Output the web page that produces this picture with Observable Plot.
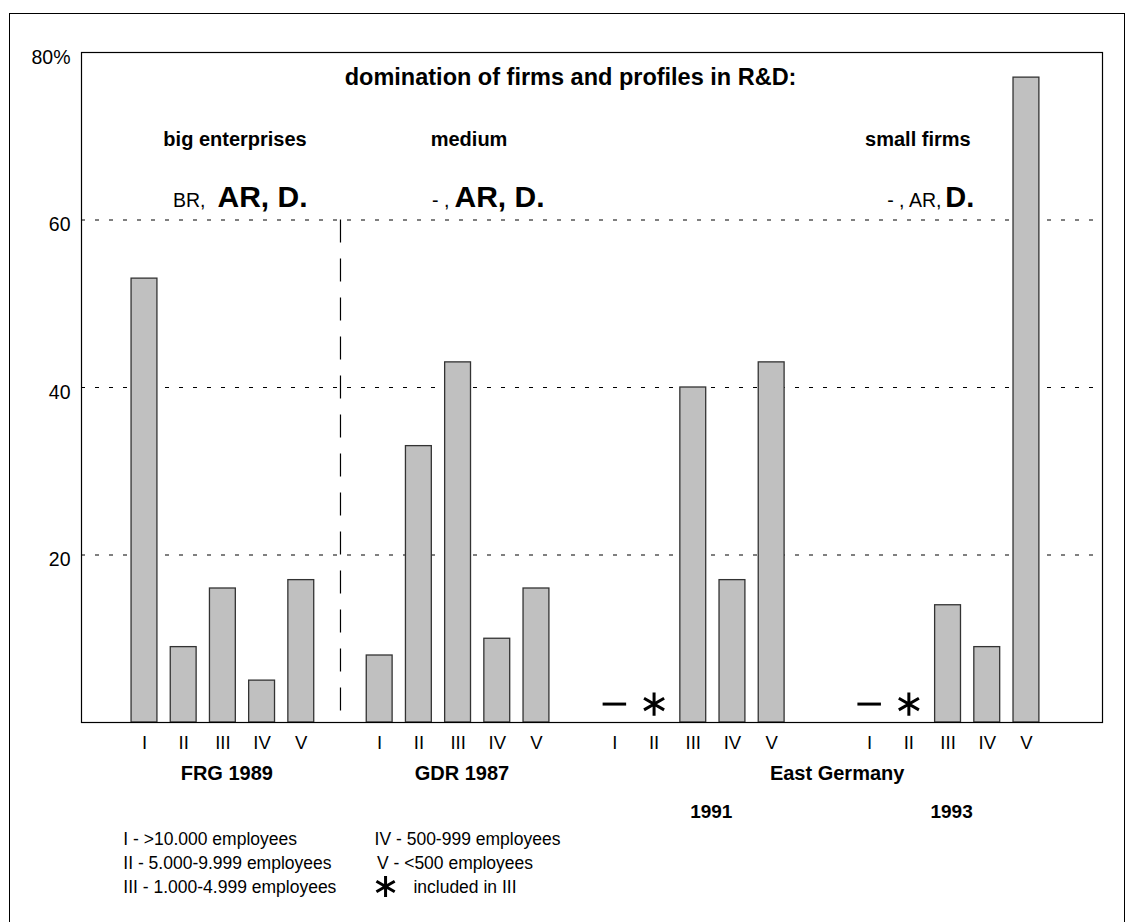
<!DOCTYPE html>
<html>
<head>
<meta charset="utf-8">
<script src="https://cdn.jsdelivr.net/npm/d3@7"></script>
<script src="https://cdn.jsdelivr.net/npm/@observablehq/plot@0.6"></script>
<style>
  html, body { margin: 0; padding: 0; background: #fff; }
  #wrap { position: relative; width: 1130px; height: 922px; overflow: hidden; }
  #outer { position: absolute; left: 9px; top: 13px; width: 1116px; height: 1000px; border: 1px solid #000; box-sizing: border-box; pointer-events: none; }
  #chart { position: absolute; left: 0; top: 0; }
</style>
</head>
<body>
<div id="wrap"><div id="chart"></div><div id="outer"></div></div>
<script>
// ---- data ----
const classes = ["I", "II", "III", "IV", "V"];
const groups = ["FRG 1989", "GDR 1987", "1991", "1993"];
const frg1989 = [53, 9, 16, 5, 17];
const gdr1987 = [8, 33, 43, 10, 16];
const eg1991 = [null, null, 40, 17, 43];
const eg1993 = [null, null, 14, 9, 77];
// markers for classes with no bar: "dash" = none, "asterisk" = included in III
const markers1991 = ["dash", "asterisk", null, null, null];
const markers1993 = ["dash", "asterisk", null, null, null];
const yTicks = [20, 40, 60, 80];
const gridValues = [20, 40, 60];
const title = "domination of firms and profiles in R&D:";
const sizeLabels = ["big enterprises", "medium", "small firms"];
const profileMinor = ["BR,", "- ,", "- , AR,"];
const profileMajor = ["AR, D.", "AR, D.", "D."];
const legendCol1 = ["I - >10.000 employees", "II - 5.000-9.999 employees", "III - 1.000-4.999 employees"];
const legendCol2 = ["IV - 500-999 employees", "V - <500 employees"];
const legendStar = "included in III";

// ---- layout (slot units on a linear x scale) ----
const groupStart = [0, 6, 12, 18.5];
const seriesList = [frg1989, gdr1987, eg1991, eg1993];
const markerList = [null, null, markers1991, markers1993];

const bars = [], dashes = [], stars = [];
seriesList.forEach((vals, g) => {
  vals.forEach((v, i) => {
    const pos = groupStart[g] + i;
    bars.push({group: groups[g], cls: classes[i], value: v, pos});
    const m = markerList[g] && markerList[g][i];
    if (m === "dash") dashes.push({pos});
    if (m === "asterisk") stars.push({pos});
  });
});
const barRows = bars.filter(d => d.value != null);
const half = 0.33;
const markerLevel = 2.2;

const font = "'Liberation Sans', Arial, sans-serif";
const headerY = 68.8, profileY = 61.5;
const sizeX = [2.31, 8.28, 19.73];
const minorX = [1.556, 7.78, 20.33];
const majorX = [1.862, 7.908, 20.43];
const majorSize = [30, 30, 29];
const legendRows = [122, 146, 170];

const legendMarks = [];
legendCol1.forEach((t, i) => legendMarks.push(
  Plot.text([t], {x: () => -0.54, text: d => d, frameAnchor: "bottom", lineAnchor: "bottom", textAnchor: "start", fontSize: 17.5, dy: legendRows[i]})
));
legendCol2.forEach((t, i) => legendMarks.push(
  Plot.text([t], {x: () => 5.87 + i * 0.06, text: d => d, frameAnchor: "bottom", lineAnchor: "bottom", textAnchor: "start", fontSize: 17.5, dy: legendRows[i]})
));
legendMarks.push(
  Plot.text([legendStar], {x: () => 6.86, text: d => d, frameAnchor: "bottom", lineAnchor: "bottom", textAnchor: "start", fontSize: 17.5, dy: legendRows[2]}),
  Plot.dot([legendStar], {x: () => 6.15, frameAnchor: "bottom", dy: legendRows[2] - 6, symbol: "asterisk", r: 10, stroke: "#000", strokeWidth: 3})
);

const profileMarks = profileMinor.map((t, i) => [
  Plot.text([t], {x: () => minorX[i], y: () => profileY, text: d => d, fontSize: 19.5, textAnchor: "end", lineAnchor: "bottom"}),
  Plot.text([profileMajor[i]], {x: () => majorX[i], y: () => profileY, text: d => d, fontWeight: "bold", fontSize: majorSize[i], textAnchor: "start", lineAnchor: "bottom"})
]).flat();

const chart = Plot.plot({
  width: 1130,
  height: 922,
  marginLeft: 81,
  marginRight: 28,
  marginTop: 52,
  marginBottom: 200,
  style: {fontFamily: font, background: "transparent", overflow: "visible", color: "#000"},
  x: {domain: [-1.607, 24.44], axis: null},
  y: {domain: [0, 80], axis: null, label: null},
  marks: [
    Plot.ruleY(gridValues, {stroke: "#000", strokeWidth: 1, strokeDasharray: "4,10"}),
    Plot.ruleX([(groupStart[0] + 4 + groupStart[1]) / 2], {y1: 60, y2: 0, stroke: "#000", strokeWidth: 1.2, strokeDasharray: "23,16"}),
    Plot.rectY(barRows, {x1: d => d.pos - half, x2: d => d.pos + half, y1: 0, y2: "value", fill: "#c0c0c0", stroke: "#333", strokeWidth: 1.3}),
    Plot.ruleY(dashes, {x1: d => d.pos - 0.3, x2: d => d.pos + 0.3, y: () => markerLevel, stroke: "#000", strokeWidth: 3}),
    Plot.dot(stars, {x: "pos", y: () => markerLevel, symbol: "asterisk", r: 11, stroke: "#000", strokeWidth: 3}),
    Plot.frame({stroke: "#000", strokeWidth: 1.2}),
    Plot.axisY(yTicks, {label: null, tickSize: 0, tickPadding: 11, fontSize: 19.5, dy: 5, tickFormat: d => d === 80 ? "80%" : String(d)}),
    // title and group annotations
    Plot.text([title], {x: () => 10.87, y: () => 76.1, text: d => d, fontWeight: "bold", fontSize: 23.5, lineAnchor: "bottom"}),
    Plot.text(sizeLabels, {x: (d, i) => sizeX[i], y: () => headerY, text: d => d, fontWeight: "bold", fontSize: 20, lineAnchor: "bottom"}),
    ...profileMarks,
    // x labels
    Plot.text(bars, {x: "pos", text: "cls", frameAnchor: "bottom", lineAnchor: "bottom", dy: 26, fontSize: 18.5}),
    Plot.text(groups.slice(0, 2), {x: (d, i) => groupStart[i] + 2.1, text: d => d, frameAnchor: "bottom", lineAnchor: "bottom", dy: 57, fontSize: 20, fontWeight: "bold"}),
    Plot.text(["East Germany"], {x: () => 17.67, text: d => d, frameAnchor: "bottom", lineAnchor: "bottom", dy: 57, fontSize: 20, fontWeight: "bold"}),
    Plot.text(groups.slice(2), {x: (d, i) => [14.46, 20.59][i], text: d => d, frameAnchor: "bottom", lineAnchor: "bottom", dy: 95, fontSize: 19, fontWeight: "bold"}),
    ...legendMarks
  ]
});

document.getElementById("chart").appendChild(chart);
</script>
</body>
</html>
